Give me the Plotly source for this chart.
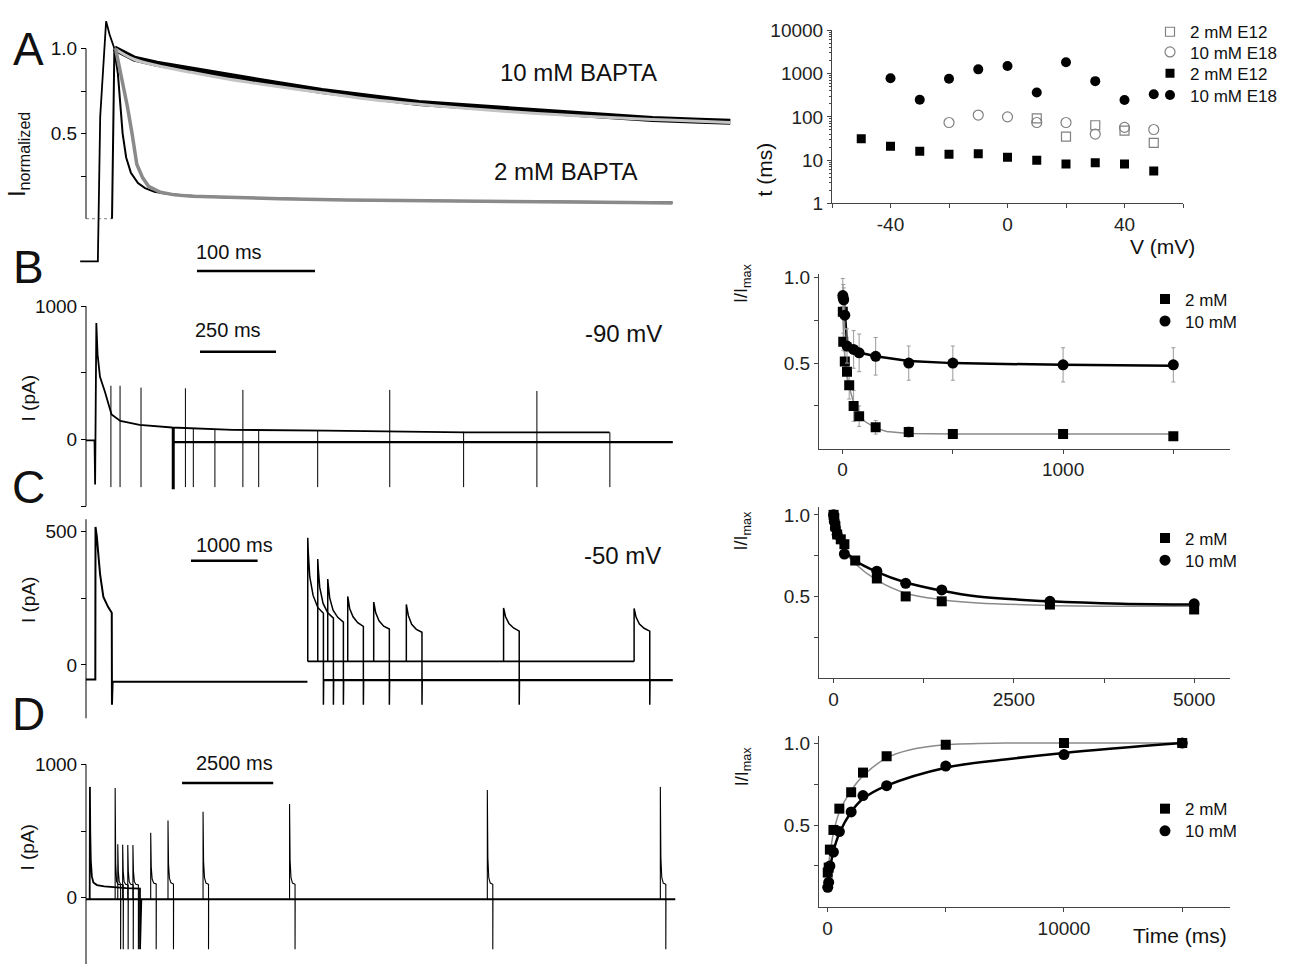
import plotly.graph_objects as go

# ======================= DATA =======================
# ---- Panel A: normalized currents (time in ms) ----
a10_rise_t = [-5, 10, 12, 17, 20, 24]
a10_rise_i = [-0.25, -0.25, 0.6, 1.16, 1.08, 1.0]
a10_t = [24, 41, 60, 85, 120, 164, 200, 242, 282, 322, 360, 401, 440, 480, 520, 546]
a10_i = [1.0, 0.94, 0.91, 0.88, 0.835, 0.79, 0.75, 0.71, 0.68, 0.66, 0.64, 0.62, 0.60, 0.585, 0.575, 0.57]
a10_fit_t = [24, 41, 60, 85, 120, 164, 200, 242, 282, 322, 360, 401, 440, 480, 520, 546]
a10_fit_i = [1.0, 0.935, 0.9, 0.865, 0.82, 0.775, 0.74, 0.70, 0.672, 0.648, 0.628, 0.61, 0.596, 0.583, 0.572, 0.565]
a2_base_t = [0, 22]
a2_base_i = [0, 0]
a2_t = [22, 23, 24, 27, 29, 31, 34, 38, 44, 50, 58, 70, 85, 120, 164, 220, 282, 350, 401, 460, 497]
a2_i = [0, 0.5, 1.0, 0.85, 0.68, 0.5, 0.36, 0.27, 0.21, 0.18, 0.158, 0.145, 0.137, 0.125, 0.118, 0.11, 0.106, 0.103, 0.1, 0.097, 0.095]
a2_fit_t = [25, 30, 35, 39, 43, 48, 53, 63, 75, 90, 120, 164, 220, 282, 350, 401, 460, 497]
a2_fit_i = [1.0, 0.84, 0.66, 0.5, 0.32, 0.24, 0.19, 0.155, 0.14, 0.132, 0.124, 0.117, 0.11, 0.105, 0.101, 0.098, 0.095, 0.093]

# ---- Panel B left: -90 mV (time ms, current pA) ----
b_sweep_t = [0, 28, 30, 34, 38, 46, 62, 84, 113, 176, 283, 482, 789, 1000, 1248, 1500, 1722]
b_sweep_i = [-7, -7, -337, 873, 640, 470, 360, 188, 139, 110, 90, 73, 66, 60, 54, 54, 54]
b_base_t = [287, 1930]
b_base_i = [-20, -20]
b_up_t = [82, 112, 181, 327, 516, 999, 1483]
b_up_top = [403, 403, 389, 384, 372, 372, 364]
b_down_t = [353, 424, 568, 762, 1242, 1723]
b_down_top = [85, 80, 73, 68, 58, 54]
b_spike_bottom = -357
b_block_t = 287
b_block_range = [-372, 90]

# ---- Panel C left: -50 mV ----
c_first_t = [0, 140, 143, 163, 190, 212, 261, 331, 387, 390, 400, 3325]
c_first_i = [-55, -55, 516, 480, 400, 339, 254, 217, 195, -149, -63, -63]
c_upper_t = [3330, 8230]
c_upper_i = [13, 13]
c_lower_t = [3575, 8811]
c_lower_i = [-57, -57]
c_pulse_start = [3330, 3480, 3630, 3930, 4320, 4810, 6270, 8230]
c_pulse_offset = [0, 8, 30, 80, 150, 235]
c_pulse_vals = [
    [476, 420, 330, 260, 215, 193],
    [396, 360, 290, 230, 195, 175],
    [321, 300, 250, 205, 178, 160],
    [256, 245, 210, 180, 158, 144],
    [235, 225, 195, 165, 145, 134],
    [226, 215, 185, 152, 133, 122],
    [213, 205, 180, 155, 138, 126],
    [211, 203, 178, 153, 137, 126],
]
c_drop = -149

# ---- Panel D left ----
d_base_t = [0, 16156]
d_base_i = [-12, -12]
d_cond_t = [100, 106, 115, 130, 160, 200, 300, 500, 800, 1100, 1478, 1480, 1516]
d_cond_i = [-12, 831, 500, 280, 160, 115, 95, 85, 78, 72, 68, -386, -12]
d_pulse_start = [798, 870, 1004, 1144, 1285, 1773, 2247, 3208, 5580, 11002, 15746]
d_pulse_offset = [0, 15, 40, 80, 150]
d_pulse_vals = [
    [823, 260, 120, 100, 95],
    [400, 200, 120, 100, 95],
    [398, 200, 120, 100, 95],
    [396, 200, 120, 100, 95],
    [395, 200, 120, 100, 95],
    [487, 230, 140, 110, 103],
    [579, 250, 145, 112, 103],
    [645, 270, 150, 110, 100],
    [702, 280, 150, 110, 100],
    [807, 300, 150, 110, 100],
    [831, 300, 150, 110, 100],
]
d_drop = -386

# ---- Top right: time constants vs voltage ----
v_open_sq = [10, 20, 30, 40, 50]
t_open_sq = [92, 35, 64, 48, 25]
v_open_ci = [-20, -10, 0, 10, 20, 30, 40, 50]
t_open_ci = [74, 110, 100, 74, 74, 40, 57, 51]
v_fill_sq = [-50, -40, -30, -20, -10, 0, 10, 20, 30, 40, 50]
t_fill_sq = [31, 21, 16, 13.7, 14, 11.7, 10, 8.1, 8.7, 8.1, 5.6]
v_fill_ci = [-40, -30, -20, -10, 0, 10, 20, 30, 40, 50]
t_fill_ci = [780, 248, 760, 1250, 1490, 364, 1830, 668, 245, 333]
legend_top = ["2 mM E12", "10 mM E18", "2 mM E12", "10 mM E18"]

# ---- B right ----
br_sq_x = [1, 3, 10, 20, 30, 50, 75, 150, 300, 500, 1000, 1500]
br_sq_y = [0.80, 0.625, 0.51, 0.45, 0.37, 0.25, 0.19, 0.125, 0.097, 0.085, 0.085, 0.072]
br_sq_e = [0.03, 0.05, 0.06, 0.08, 0.08, 0.09, 0.06, 0.04, 0.03, 0.02, 0.02, 0.01]
br_ci_x = [1, 3, 5, 10, 20, 50, 75, 150, 300, 500, 1000, 1500]
br_ci_y = [0.895, 0.88, 0.87, 0.78, 0.60, 0.58, 0.56, 0.54, 0.50, 0.50, 0.49, 0.49]
br_ci_e = [0.1, 0.08, 0.07, 0.08, 0.1, 0.11, 0.11, 0.11, 0.1, 0.1, 0.1, 0.1]
br_fit10_x = [0, 5, 10, 15, 20, 30, 50, 75, 150, 300, 500, 1000, 1500]
br_fit10_y = [0.9, 0.87, 0.8, 0.68, 0.62, 0.595, 0.578, 0.562, 0.54, 0.512, 0.5, 0.49, 0.485]
br_fit2_x = [0, 5, 10, 20, 30, 50, 75, 100, 150, 200, 300, 500, 1000, 1500]
br_fit2_y = [0.8, 0.64, 0.53, 0.43, 0.36, 0.27, 0.2, 0.16, 0.12, 0.1, 0.088, 0.085, 0.085, 0.085]

# ---- C right ----
cr_sq_x = [0, 10, 25, 50, 100, 150, 300, 600, 1000, 1500, 3000, 5000]
cr_sq_y = [1.0, 0.98, 0.93, 0.88, 0.85, 0.82, 0.72, 0.61, 0.5, 0.47, 0.45, 0.42]
cr_ci_x = [0, 10, 25, 50, 150, 600, 1000, 1500, 3000, 5000]
cr_ci_y = [1.0, 0.96, 0.92, 0.88, 0.76, 0.655, 0.58, 0.54, 0.47, 0.455]
cr_fit10_x = [0, 50, 150, 300, 600, 1000, 1500, 2000, 3000, 4000, 5000]
cr_fit10_y = [1.0, 0.9, 0.79, 0.72, 0.65, 0.585, 0.535, 0.5, 0.47, 0.455, 0.45]
cr_fit2_x = [0, 50, 150, 300, 600, 1000, 1500, 2000, 3000, 4000, 5000]
cr_fit2_y = [0.98, 0.88, 0.78, 0.7, 0.6, 0.52, 0.48, 0.46, 0.445, 0.44, 0.44]

# ---- D right ----
dr_sq_x = [10, 50, 100, 250, 500, 1000, 1500, 2500, 5000, 10000, 15000]
dr_sq_y = [0.21, 0.24, 0.35, 0.47, 0.6, 0.7, 0.82, 0.92, 0.99, 1.0, 1.0]
dr_ci_x = [10, 50, 100, 250, 500, 1000, 1500, 2500, 5000, 10000, 15000]
dr_ci_y = [0.12, 0.15, 0.25, 0.335, 0.46, 0.58, 0.68, 0.74, 0.86, 0.93, 1.0]
dr_fit2_x = [0, 100, 250, 500, 1000, 1500, 2500, 3500, 5000, 7500, 10000, 15000]
dr_fit2_y = [0.2, 0.32, 0.45, 0.58, 0.71, 0.8, 0.91, 0.96, 0.99, 1.0, 1.0, 1.0]
dr_fit10_x = [0, 100, 250, 500, 1000, 1500, 2500, 5000, 7500, 10000, 15000]
dr_fit10_y = [0.13, 0.23, 0.34, 0.45, 0.58, 0.66, 0.74, 0.85, 0.9, 0.94, 1.0]

legend_conc = ["2 mM", "10 mM"]

# ======================= LAYOUT HELPERS =======================
W, H = 1290, 975
def fx(p):
    return p / W
def fy(p):
    return 1 - p / H

FONT = "Liberation Sans, Arial, sans-serif"
NARROW = "Liberation Sans Narrow, Arial Narrow, Liberation Sans, Arial, sans-serif"
GRAY_AX = "#444444"


def segments(ts, lows, highs):
    xs, ys = [], []
    for t, lo, hi in zip(ts, lows, highs):
        xs += [t, t, None]
        ys += [lo, hi, None]
    return xs, ys


def pulse_train(starts, offsets, vals, before, drop, after):
    xs, ys = [], []
    for s, v in zip(starts, vals):
        end = s + offsets[-1]
        xs += [s] + [s + o for o in offsets] + [end, end + 4, None]
        ys += [before] + list(v) + [drop, after, None]
    return xs, ys


fig = go.Figure()
LW = 1.3

def line(x, y, xa, ya, color="black", width=LW, dash=None, shape="linear"):
    fig.add_trace(go.Scatter(x=x, y=y, mode="lines", xaxis=xa, yaxis=ya,
                             line=dict(color=color, width=width, dash=dash, shape=shape),
                             showlegend=False, hoverinfo="skip"))

# ---- Panel A ----
line(a2_base_t, a2_base_i, "x", "y", color="#999999", width=1.2, dash="dot")
line(a10_rise_t, a10_rise_i, "x", "y", width=1.8)
line(a10_t, a10_i, "x", "y", width=6)
line(a10_fit_t, a10_fit_i, "x", "y", color="#c4c4c4", width=3, shape="spline")
line(a2_t, a2_i, "x", "y", width=2)
line(a2_fit_t, a2_fit_i, "x", "y", color="#8a8a8a", width=3.5)

# ---- Panel B left ----
line(b_base_t, b_base_i, "x2", "y2", width=2.2)
line(b_sweep_t, b_sweep_i, "x2", "y2", width=1.8)
sx, sy = segments(b_up_t, [b_spike_bottom] * len(b_up_t), b_up_top)
line(sx, sy, "x2", "y2", width=1)
sx, sy = segments(b_down_t, [b_spike_bottom] * len(b_down_t), b_down_top)
line(sx, sy, "x2", "y2", width=1)
line([b_block_t, b_block_t], b_block_range, "x2", "y2", width=3)

# ---- Panel C left ----
line(c_first_t, c_first_i, "x3", "y3", width=2)
line(c_upper_t, c_upper_i, "x3", "y3", width=1.6)
line(c_lower_t, c_lower_i, "x3", "y3", width=2.4)
px_, py_ = pulse_train(c_pulse_start, c_pulse_offset, c_pulse_vals, c_upper_i[0], c_drop, c_lower_i[0])
line(px_, py_, "x3", "y3", width=1.5)

# ---- Panel D left ----
line(d_base_t, d_base_i, "x4", "y4", width=2)
line(d_cond_t, d_cond_i, "x4", "y4", width=1.8)
px_, py_ = pulse_train(d_pulse_start, d_pulse_offset, d_pulse_vals, d_base_i[0], d_drop, d_base_i[0])
line(px_, py_, "x4", "y4", width=1.1)

# ---- markers ----
def pts(x, y, xa, ya, symbol, color, size, name, legend, err=None):
    fig.add_trace(go.Scatter(
        x=x, y=y, mode="markers", xaxis=xa, yaxis=ya, name=name, legend=legend,
        showlegend=True, hoverinfo="skip",
        marker=dict(symbol=symbol, color=color, size=size,
                    line=dict(color=color, width=1.2 if "open" in symbol else 0)),
        error_y=(dict(type="data", array=err, color="#9a9a9a", thickness=1, width=2)
                 if err is not None else None)))

pts(v_open_sq, t_open_sq, "x5", "y5", "square-open", "#808080", 9, legend_top[0], "legend")
pts(v_open_ci, t_open_ci, "x5", "y5", "circle-open", "#808080", 10, legend_top[1], "legend2")
pts(v_fill_sq, t_fill_sq, "x5", "y5", "square", "black", 9, legend_top[2], "legend3")
pts(v_fill_ci, t_fill_ci, "x5", "y5", "circle", "black", 10, legend_top[3], "legend4")

line(br_fit2_x, br_fit2_y, "x6", "y6", color="#8a8a8a", width=1.5)
line(br_fit10_x, br_fit10_y, "x6", "y6", color="black", width=2.5)
pts(br_sq_x, br_sq_y, "x6", "y6", "square", "black", 10, legend_conc[0], "legend5", err=br_sq_e)
pts(br_ci_x, br_ci_y, "x6", "y6", "circle", "black", 11, legend_conc[1], "legend6", err=br_ci_e)

line(cr_fit2_x, cr_fit2_y, "x7", "y7", color="#8a8a8a", width=1.5, shape="spline")
line(cr_fit10_x, cr_fit10_y, "x7", "y7", color="black", width=2.5, shape="spline")
pts(cr_sq_x, cr_sq_y, "x7", "y7", "square", "black", 10, legend_conc[0], "legend7")
pts(cr_ci_x, cr_ci_y, "x7", "y7", "circle", "black", 11, legend_conc[1], "legend8")

line(dr_fit2_x, dr_fit2_y, "x8", "y8", color="#8a8a8a", width=1.5, shape="spline")
line(dr_fit10_x, dr_fit10_y, "x8", "y8", color="black", width=2.5, shape="spline")
pts(dr_sq_x, dr_sq_y, "x8", "y8", "square", "black", 10, legend_conc[0], "legend9")
pts(dr_ci_x, dr_ci_y, "x8", "y8", "circle", "black", 11, legend_conc[1], "legend10")

# ======================= AXES =======================
left_x = [70, 740]
yaxis_left_pos = fx(86)
tickfont_left = dict(family=NARROW, size=19, color="#111")
tickfont_right = dict(family=FONT, size=19, color="#222")

def left_axes(n, xrange, ydom, yrange, tickvals, ticktext):
    xs = "xaxis" if n == 1 else f"xaxis{n}"
    ys = "yaxis" if n == 1 else f"yaxis{n}"
    fig.layout[xs] = dict(domain=[fx(left_x[0]), fx(left_x[1])], range=xrange, visible=False,
                          anchor="y" if n == 1 else f"y{n}")
    fig.layout[ys] = dict(domain=[fy(ydom[1]), fy(ydom[0])], range=yrange, anchor="free",
                          position=yaxis_left_pos, showline=False, showgrid=False, zeroline=False,
                          ticks="outside", ticklen=5, tickcolor="black", tickwidth=1,
                          tickvals=tickvals, ticktext=ticktext, tickfont=tickfont_left)

left_axes(1, [-13.6, 554.2], [5, 265], [-0.297, 1.197], [0.25, 0.5, 0.75, 1.0], ["", "0.5", "", "1.0"])
left_axes(2, [-52.6, 2151], [295, 510], [-521, 1056], [-500, 0, 500, 1000], ["", "0", "", "1000"])
left_axes(3, [-240, 9820], [515, 728], [-215, 565], [0, 250, 500], ["0", "", "500"])
left_axes(4, [-440, 17930], [755, 975], [-497, 1117], [0, 500, 1000], ["0", "", "1000"])

def right_axes(n, xdom, xrange, xtv, xtt, ydom, yrange, ytv, ytt, ytype="linear"):
    fig.layout[f"xaxis{n}"] = dict(domain=[fx(xdom[0]), fx(xdom[1])], range=xrange, anchor=f"y{n}",
                                   showline=True, linecolor=GRAY_AX, linewidth=1, showgrid=False,
                                   zeroline=False, ticks="outside", ticklen=4, tickcolor=GRAY_AX,
                                   tickvals=xtv, ticktext=xtt, tickfont=tickfont_right)
    fig.layout[f"yaxis{n}"] = dict(domain=[fy(ydom[1]), fy(ydom[0])], range=yrange, anchor=f"x{n}",
                                   type=ytype, showline=True, linecolor=GRAY_AX, linewidth=1,
                                   showgrid=False, zeroline=False, ticks="outside", ticklen=4,
                                   tickcolor=GRAY_AX, tickvals=ytv, ticktext=ytt,
                                   tickfont=tickfont_right)

right_axes(5, [832, 1183], [-60, 60], [-60, -40, -20, 0, 20, 40, 60], ["", "-40", "", "0", "", "40", ""],
           [20.7, 197.7], [0, 4], [1, 10, 100, 1000, 10000], ["1", "10", "100", "1000", "10000"], "log")
fig.layout.yaxis5.minor = dict(ticks="outside", ticklen=2, tickcolor=GRAY_AX,
                               tickvals=[m * 10 ** e for e in range(4) for m in range(2, 10)])
right_axes(6, [819, 1230], [-107, 1757], [0, 500, 1000, 1500], ["0", "", "1000", ""],
           [270, 448.3], [0, 1.02], [0.25, 0.5, 0.75, 1.0], ["", "0.5", "", "1.0"])
right_axes(7, [819, 1230], [-202, 5497], [0, 1250, 2500, 3750, 5000], ["0", "", "2500", "", "5000"],
           [508.3, 682.7], [0, 1.046], [0.25, 0.5, 0.75, 1.0], ["", "0.5", "", "1.0"])
right_axes(8, [819, 1230], [-360, 17020], [0, 5000, 10000, 15000], ["0", "", "10000", ""],
           [741.7, 916.7], [0, 1.045], [0.25, 0.5, 0.75, 1.0], ["", "0.5", "", "1.0"])

# ======================= SHAPES (spines, scale bars) =======================
shapes = []
for yref, lo, hi in [("y", 0, 1.0), ("y2", -500, 1000), ("y3", -200, 545), ("y4", -497, 1000)]:
    shapes.append(dict(type="line", xref="paper", yref=yref, x0=fx(86), x1=fx(86), y0=lo, y1=hi,
                       line=dict(color="black", width=1)))

scalebars = [("x", 94, 100, 266.7), ("x2", 375, 250, 349.3), ("x3", 1577, 1000, 563), ("x4", 2632, 2500, 790)]
for xref, start, length, ypix in scalebars:
    shapes.append(dict(type="line", xref=xref, yref="paper", x0=start, x1=start + length,
                       y0=fy(ypix), y1=fy(ypix), line=dict(color="black", width=2.5)))
fig.layout.shapes = shapes

# ======================= ANNOTATIONS =======================
ann = []
def text(x, y, s, size, family=FONT, angle=0, xanchor="center", color="#111"):
    ann.append(dict(x=fx(x), y=fy(y), xref="paper", yref="paper", text=s, showarrow=False,
                    textangle=angle, xanchor=xanchor, yanchor="middle",
                    font=dict(family=family, size=size, color=color)))

for lab, yy in [("A", 40), ("B", 263), ("C", 488), ("D", 720)]:
    text(28, yy, lab, 46)

text(578, 64, "10 mM BAPTA", 24)
text(566, 165, "2 mM BAPTA", 24)
text(623, 331, "-90 mV", 24)
text(622, 558, "-50 mV", 24)

text(229, 247, "100 ms", 20, family=NARROW)
text(228, 327, "250 ms", 20, family=NARROW)
text(234, 547, "1000 ms", 20, family=NARROW)
text(234, 770, "2500 ms", 20, family=NARROW)

text(19, 148, "I<sub>normalized</sub>", 23, angle=-90)
text(28, 397, "I (pA)", 19, angle=-90)
text(28, 603, "I (pA)", 19, angle=-90)
text(28, 856, "I (pA)", 19, angle=-90)

text(764, 163, "t (ms)", 21, angle=-90)
text(1162, 242, "V (mV)", 21)
text(1180, 946, "Time (ms)", 21)
for yy in [279, 532, 773]:
    text(743, yy, "I/I<sub>max</sub>", 18, angle=-90)
fig.layout.annotations = ann

# ======================= LEGENDS (one row each) =======================
def legend_cfg(x, y):
    return dict(x=fx(x), y=fy(y), xref="paper", yref="paper", xanchor="left", yanchor="middle",
                bgcolor="rgba(0,0,0,0)", borderwidth=0, font=dict(family=FONT, size=17, color="#111"),
                itemwidth=30, tracegroupgap=0)

legend_rows = {
    "legend": (1150, 22.7), "legend2": (1150, 43.3), "legend3": (1150, 65), "legend4": (1150, 87.3),
    "legend5": (1145, 295.7), "legend6": (1145, 318.3),
    "legend7": (1145, 540), "legend8": (1145, 562.7),
    "legend9": (1145, 816.7), "legend10": (1145, 839.3),
}
fig.update_layout(
    width=W, height=H, margin=dict(l=0, r=0, t=0, b=0),
    paper_bgcolor="white", plot_bgcolor="white",
    **{k: legend_cfg(*v) for k, v in legend_rows.items()}
)

fig.write_html("out.html", config={"displayModeBar": False},
               post_script="document.body.style.margin='0px';")
